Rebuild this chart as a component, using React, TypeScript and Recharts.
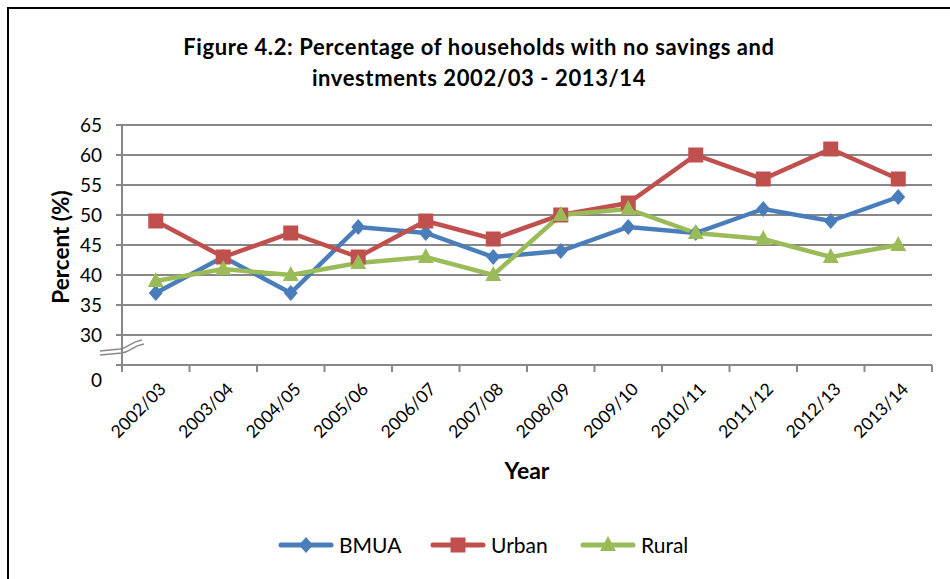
import React from 'react';
import { LineChart, Line, XAxis, YAxis, CartesianGrid } from 'recharts';

const years = ['2002/03', '2003/04', '2004/05', '2005/06', '2006/07', '2007/08', '2008/09', '2009/10', '2010/11', '2011/12', '2012/13', '2013/14'];
const bmua = [37, 43, 37, 48, 47, 43, 44, 48, 47, 51, 49, 53];
const urban = [49, 43, 47, 43, 49, 46, 50, 52, 60, 56, 61, 56];
const rural = [39, 41, 40, 42, 43, 40, 50, 51, 47, 46, 43, 45];
const yTicks = [25, 30, 35, 40, 45, 50, 55, 60, 65];

const BLUE = '#4a7ebb';
const RED = '#c0504d';
const GREEN = '#9bbb59';
const GRID = '#888888';
const FONT = 'Lato, "Open Sans", sans-serif';

// categories sit in the middle of each band, tick marks between them
const data = years.map((year, i) => ({ x: i + 0.5, year, bmua: bmua[i], urban: urban[i], rural: rural[i] }));
const xTicks: number[] = [];
for (let i = 0; i <= 24; i++) xTicks.push(i / 2);

const Diamond = ({ cx, cy, color }: any) => (
  <polygon points={`${cx},${cy - 8} ${cx + 7},${cy} ${cx},${cy + 8} ${cx - 7},${cy}`} fill={color} />
);
const Square = ({ cx, cy, color }: any) => <rect x={cx - 7.5} y={cy - 7.5} width={15} height={15} fill={color} />;
const Triangle = ({ cx, cy, color }: any) => (
  <polygon points={`${cx},${cy - 9} ${cx + 8},${cy + 6} ${cx - 8},${cy + 6}`} fill={color} />
);

const YTick = ({ x, y, payload }: any) => {
  const zero = payload.value === 25;
  return (
    <text x={x} y={y + (zero ? 15 : 0)} dy={7} textAnchor="end" fontSize={19} fill="#000" fontFamily={FONT}>
      {zero ? '0' : payload.value}
    </text>
  );
};

const XTick = ({ x, y, payload }: any) => {
  const v = payload.value;
  if (Number.isInteger(v)) {
    return <line x1={x} y1={y} x2={x} y2={y + 7} stroke={GRID} strokeWidth={2} />;
  }
  const label = years[Math.floor(v)];
  return (
    <g transform={`translate(${x + 7},${y + 21})`}>
      <text transform="rotate(-45)" textAnchor="end" dy={6} fontSize={17.5} fill="#000" fontFamily={FONT}>
        {label}
      </text>
    </g>
  );
};

const LegendItem = ({ left, color, label, marker }: any) => (
  <div style={{ position: 'absolute', left, top: 532, display: 'flex', alignItems: 'center' }}>
    <svg width={56} height={24}>
      <line x1={3} y1={12} x2={53} y2={12} stroke={color} strokeWidth={5} strokeLinecap="round" />
      {marker === 'diamond' && <Diamond cx={28} cy={12} color={color} />}
      {marker === 'square' && <Square cx={28} cy={12} color={color} />}
      {marker === 'triangle' && <Triangle cx={28} cy={12} color={color} />}
    </svg>
    <span style={{ marginLeft: 5, fontSize: 21, color: '#000' }}>{label}</span>
  </div>
);

export default function App() {
  return (
    <div style={{ position: 'absolute', left: 0, top: 0, width: 950, height: 579, background: '#fff', overflow: 'hidden', fontFamily: FONT }}>
      <div style={{ position: 'absolute', left: 7, top: 7, width: 980, height: 600, border: '2px solid #000' }} />
      <div style={{ position: 'absolute', left: 0, width: 958, top: 31, textAlign: 'center', fontWeight: 700, fontSize: 22, letterSpacing: 0.6, lineHeight: '31px', color: '#000' }}>
        Figure 4.2: Percentage of households with no savings and
        <br />
        investments 2002/03 - 2013/14
      </div>
      <div style={{ position: 'absolute', left: 60, top: 247, transform: 'translate(-50%, -50%) rotate(-90deg)', fontWeight: 700, fontSize: 22.5, whiteSpace: 'nowrap' }}>
        Percent (%)
      </div>
      <div style={{ position: 'absolute', left: 527, top: 470, transform: 'translate(-50%, -50%)', fontWeight: 700, fontSize: 23 }}>
        Year
      </div>
      <LineChart width={950} height={579} data={data} margin={{ top: 125, right: 18, bottom: 114, left: 62 }} style={{ position: 'absolute', left: 0, top: 0 }}>
        <CartesianGrid horizontal vertical={false} stroke={GRID} strokeWidth={2} />
        <XAxis
          dataKey="x"
          type="number"
          domain={[0, 12]}
          ticks={xTicks}
          interval={0}
          tickLine={false}
          tickSize={0}
          tickMargin={0}
          height={100}
          axisLine={{ stroke: GRID, strokeWidth: 2 }}
          tick={<XTick />}
        />
        <YAxis
          type="number"
          domain={[25, 65]}
          ticks={yTicks}
          interval={0}
          width={60}
          tickSize={6}
          tickMargin={14}
          tickLine={{ stroke: GRID, strokeWidth: 2 }}
          axisLine={{ stroke: GRID, strokeWidth: 2 }}
          tick={<YTick />}
        />
        <Line type="linear" dataKey="bmua" stroke={BLUE} strokeWidth={4.5} isAnimationActive={false}
          dot={(p: any) => <Diamond key={`b${p.index}`} cx={p.cx} cy={p.cy} color={BLUE} />} />
        <Line type="linear" dataKey="urban" stroke={RED} strokeWidth={4.5} isAnimationActive={false}
          dot={(p: any) => <Square key={`u${p.index}`} cx={p.cx} cy={p.cy} color={RED} />} />
        <Line type="linear" dataKey="rural" stroke={GREEN} strokeWidth={4.5} isAnimationActive={false}
          dot={(p: any) => <Triangle key={`r${p.index}`} cx={p.cx} cy={p.cy} color={GREEN} />} />
      </LineChart>
      {/* axis break mark */}
      <svg width={950} height={579} style={{ position: 'absolute', left: 0, top: 0, pointerEvents: 'none' }}>
        <path d="M100,351 L120,349 C128,348 130,342 142,340" fill="none" stroke={GRID} strokeWidth={1.5} />
        <path d="M100,355 L122,353 C130,352 132,346 144,344" fill="none" stroke={GRID} strokeWidth={1.5} />
      </svg>
      <LegendItem left={278} color={BLUE} label="BMUA" marker="diamond" />
      <LegendItem left={430} color={RED} label="Urban" marker="square" />
      <LegendItem left={580} color={GREEN} label="Rural" marker="triangle" />
    </div>
  );
}
